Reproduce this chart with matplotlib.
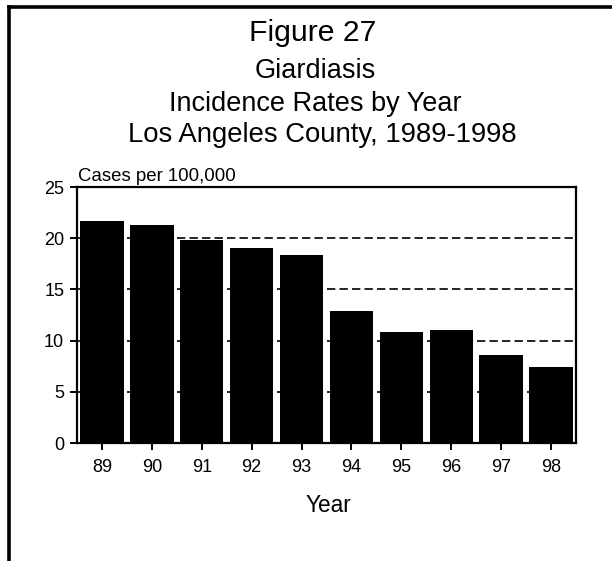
import numpy as np
import matplotlib.pyplot as plt
from matplotlib.lines import Line2D

plt.rcParams['font.family'] = ['Liberation Sans', 'DejaVu Sans']

years = ['89', '90', '91', '92', '93', '94', '95', '96', '97', '98']
rates = [21.7, 21.3, 19.8, 19.0, 18.4, 12.9, 10.8, 11.0, 8.6, 7.4]
yticks = [0, 5, 10, 15, 20, 25]

W, H = 612, 561
fig = plt.figure(figsize=(W / 100, H / 100), dpi=100)

# page frame: left and top edges only
fig.add_artist(Line2D([9 / W, 9 / W], [0, 1 - 6.5 / H], color='black', lw=2.6,
                      transform=fig.transFigure, solid_capstyle='projecting'))
fig.add_artist(Line2D([9 / W, 1], [1 - 6.5 / H, 1 - 6.5 / H], color='black', lw=2.6,
                      transform=fig.transFigure, solid_capstyle='projecting'))

# titles (positions are baselines)
fig.text(313 / W, 1 - 41 / H, 'Figure 27', ha='center', va='baseline', fontsize=21.7)
fig.text(315 / W, 1 - 78 / H, 'Giardiasis', ha='center', va='baseline', fontsize=19.5)
fig.text(315 / W, 1 - 111 / H, 'Incidence Rates by Year', ha='center', va='baseline', fontsize=19.5)
fig.text(322 / W, 1 - 142 / H, 'Los Angeles County, 1989-1998', ha='center', va='baseline', fontsize=19.8)

left, right, top, bottom = 77, 576, 187, 443
ax = fig.add_axes([left / W, 1 - bottom / H, (right - left) / W, (bottom - top) / H])

x = np.arange(len(years))
ax.bar(x, rates, width=0.87, color='black', zorder=3)

for v in yticks[1:-1]:
    ax.axhline(v, color='black', lw=1.2, linestyle=(0, (5, 2.5)), zorder=1)

ax.set_xlim(-0.5, len(years) - 0.5)
ax.set_ylim(0, 25)
ax.set_yticks(yticks)
ax.set_xticks(x)
ax.set_xticklabels(years)

for s in ax.spines.values():
    s.set_linewidth(1.6)
    s.set_zorder(4)
ax.tick_params(axis='both', direction='out', length=5.3, width=1.4, labelsize=13, pad=3.9)
ax.tick_params(axis='x', pad=6.5)

ax.text(0.002, 1 + 6 / (bottom - top), 'Cases per 100,000', transform=ax.transAxes,
        ha='left', va='baseline', fontsize=13.4)
fig.text(328 / W, 1 - 506 / H, 'Year', ha='center', va='center', fontsize=16.3)

fig.savefig('out.png', dpi=100)
